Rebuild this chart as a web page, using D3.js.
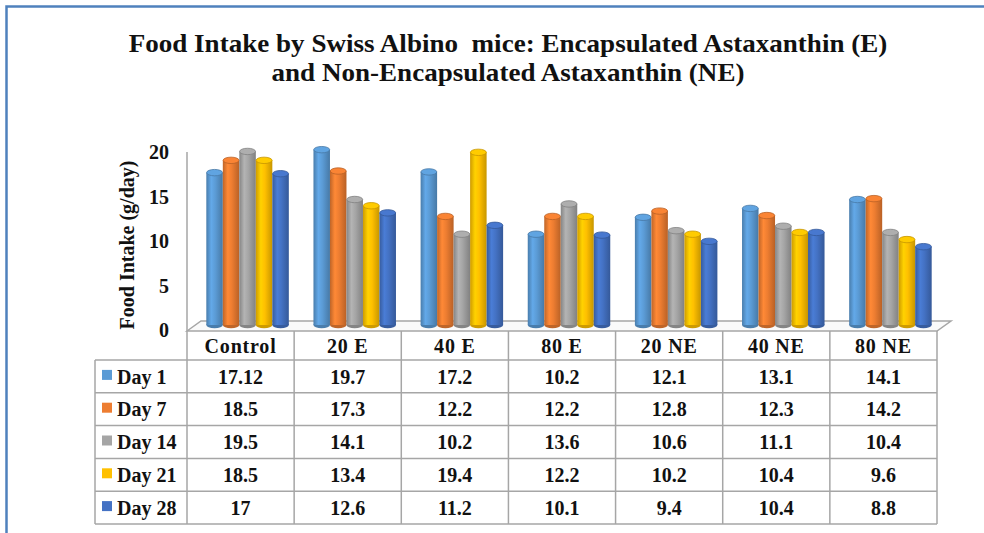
<!DOCTYPE html>
<html>
<head>
<meta charset="utf-8">
<script src="https://cdn.jsdelivr.net/npm/d3@7"></script>
<style>
  html, body { margin: 0; padding: 0; background: #fff; }
  svg { display: block; }
</style>
</head>
<body>
<svg id="chart" width="984" height="533"></svg>
<script>
// Groups (table columns) and time points (series / table rows)
const categories = ["Control", "20 E", "40 E", "80 E", "20 NE", "40 NE", "80 NE"];
const seriesNames = ["Day 1", "Day 7", "Day 14", "Day 21", "Day 28"];
const day1  = [17.12, 19.7, 17.2, 10.2, 12.1, 13.1, 14.1];
const day7  = [18.5, 17.3, 12.2, 12.2, 12.8, 12.3, 14.2];
const day14 = [19.5, 14.1, 10.2, 13.6, 10.6, 11.1, 10.4];
const day21 = [18.5, 13.4, 19.4, 12.2, 10.2, 10.4, 9.6];
const day28 = [17, 12.6, 11.2, 10.1, 9.4, 10.4, 8.8];
const seriesValues = [day1, day7, day14, day21, day28];
const seriesColors = ["#5B9BD5", "#ED7D31", "#A5A5A5", "#FFC000", "#4472C4"];
const yTicks = [0, 5, 10, 15, 20];
const titleLines = [
  "Food Intake by Swiss Albino  mice: Encapsulated Astaxanthin (E)",
  "and Non-Encapsulated Astaxanthin (NE)"
];
const yAxisTitle = "Food Intake (g/day)";

const FONT = "'Liberation Serif', 'Times New Roman', serif";
const INK = "#111";
const svg = d3.select("#chart");

// outer frame (left and top edges)
svg.append("path")
  .attr("d", "M6.5,533 L6.5,6.5 L984,6.5")
  .attr("fill", "none")
  .attr("stroke", "#4f81bd")
  .attr("stroke-width", 2.5);

// title (slightly widened lettering)
svg.append("g").selectAll("text")
  .data(titleLines)
  .join("text")
  .attr("transform", (d, i) => `translate(508,${52 + i * 29}) scale(1.083,1)`)
  .attr("text-anchor", "middle")
  .attr("font-family", FONT)
  .attr("font-size", 25)
  .attr("font-weight", "bold")
  .attr("fill", INK)
  .style("white-space", "pre")
  .text(d => d);

// scales
const plotLeft = 187, plotRight = 937;
const x = d3.scaleBand().domain(categories).range([plotLeft, plotRight]).padding(0);
const y = d3.scaleLinear().domain([0, 20]).range([330, 152]);
const inner = d3.scaleBand().domain(seriesNames)
  .range([x.bandwidth() * 0.115, x.bandwidth() * 0.885]).padding(0);
const depthX = 14, depthY = -10;            // floor depth offset
const midX = depthX / 2, midY = depthY / 2; // bars stand at mid-depth

// floor
const floorGround = y(0) + 1;
svg.append("path")
  .attr("d", `M${plotLeft},${floorGround} L${plotLeft + depthX},${floorGround + depthY} L${plotRight + depthX},${floorGround + depthY} L${plotRight},${floorGround} Z`)
  .attr("fill", "#fafafa")
  .attr("stroke", "#a6a6a6")
  .attr("stroke-width", 1.5);

// vertical axis line
svg.append("line")
  .attr("x1", plotLeft).attr("x2", plotLeft)
  .attr("y1", y(20)).attr("y2", floorGround)
  .attr("stroke", "#a6a6a6").attr("stroke-width", 1.5);

// y tick labels
svg.append("g").selectAll("text")
  .data(yTicks)
  .join("text")
  .attr("x", 169)
  .attr("y", d => y(d))
  .attr("dy", "0.35em")
  .attr("text-anchor", "end")
  .attr("font-family", FONT)
  .attr("font-size", 20)
  .attr("font-weight", "bold")
  .attr("fill", INK)
  .text(d => d);

// y axis title
svg.append("text")
  .attr("transform", `translate(134,${(y(0) + y(20)) / 2 + 4}) rotate(-90)`)
  .attr("text-anchor", "middle")
  .attr("font-family", FONT)
  .attr("font-size", 20)
  .attr("font-weight", "bold")
  .attr("fill", INK)
  .text(yAxisTitle);

// cylinder gradients
const defs = svg.append("defs");
seriesColors.forEach((c, i) => {
  const base = d3.color(c);
  const g = defs.append("linearGradient")
    .attr("id", "cyl" + i).attr("x1", "0%").attr("x2", "100%");
  [[0, base.darker(0.6)], [0.3, base.brighter(0.25)], [0.55, base], [1, base.darker(0.7)]]
    .forEach(([o, col]) => g.append("stop").attr("offset", o).attr("stop-color", col));
});

// bars as cylinders
const bw = inner.bandwidth();
const ry = 3.2;
const barRows = [];
categories.forEach((cat, ci) => {
  seriesNames.forEach((s, si) => {
    barRows.push({ cat, si, v: seriesValues[si][ci] });
  });
});
const bars = svg.append("g").selectAll("g")
  .data(barRows)
  .join("g")
  .attr("transform", d => `translate(${x(d.cat) + inner(seriesNames[d.si]) + midX},${midY})`);

bars.append("ellipse")
  .attr("cx", bw / 2).attr("cy", y(0))
  .attr("rx", bw / 2).attr("ry", ry)
  .attr("fill", d => d3.color(seriesColors[d.si]).darker(0.6));
bars.append("rect")
  .attr("x", 0).attr("width", bw)
  .attr("y", d => y(d.v))
  .attr("height", d => y(0) - y(d.v))
  .attr("fill", d => `url(#cyl${d.si})`);
bars.append("ellipse")
  .attr("cx", bw / 2).attr("cy", d => y(d.v))
  .attr("rx", bw / 2 - 0.3).attr("ry", ry)
  .attr("fill", d => d3.color(seriesColors[d.si]).brighter(0.15))
  .attr("stroke", d => d3.color(seriesColors[d.si]).darker(0.7))
  .attr("stroke-width", 0.8);

// data table
const tableLeft = 95;
const headerTop = floorGround, headerBottom = 360;
const rowH = (524 - headerBottom) / seriesNames.length;
const table = svg.append("g");
const lineColor = "#a6a6a6";

// header column separators
table.append("g").selectAll("line")
  .data(d3.range(categories.length + 1))
  .join("line")
  .attr("x1", i => plotLeft + i * x.step()).attr("x2", i => plotLeft + i * x.step())
  .attr("y1", headerTop).attr("y2", headerBottom)
  .attr("stroke", lineColor).attr("stroke-width", 1.5);

// horizontal row lines
table.append("g").selectAll("line")
  .data(d3.range(seriesNames.length + 1))
  .join("line")
  .attr("x1", tableLeft).attr("x2", plotRight)
  .attr("y1", i => headerBottom + i * rowH).attr("y2", i => headerBottom + i * rowH)
  .attr("stroke", lineColor).attr("stroke-width", 1.5);

// vertical lines in body
table.append("g").selectAll("line")
  .data([tableLeft].concat(d3.range(categories.length + 1).map(i => plotLeft + i * x.step())))
  .join("line")
  .attr("x1", d => d).attr("x2", d => d)
  .attr("y1", headerBottom).attr("y2", headerBottom + rowH * seriesNames.length)
  .attr("stroke", lineColor).attr("stroke-width", 1.5);

// category labels
table.append("g").selectAll("text")
  .data(categories)
  .join("text")
  .attr("x", d => x(d) + x.bandwidth() / 2)
  .attr("y", (headerTop + headerBottom) / 2)
  .attr("dy", "0.36em")
  .attr("text-anchor", "middle")
  .attr("font-family", FONT)
  .attr("font-size", 20)
  .attr("letter-spacing", 0.8)
  .attr("font-weight", "bold")
  .attr("fill", INK)
  .text(d => d);

// row labels with colour keys
const rows = table.append("g").selectAll("g")
  .data(seriesNames)
  .join("g")
  .attr("transform", (d, i) => `translate(0,${headerBottom + i * rowH + rowH / 2})`);
rows.append("rect")
  .attr("x", 102).attr("y", -6.5).attr("width", 10).attr("height", 10)
  .attr("fill", (d, i) => seriesColors[i]);
rows.append("text")
  .attr("x", 117).attr("dy", "0.36em")
  .attr("font-family", FONT)
  .attr("font-size", 20).attr("font-weight", "bold").attr("fill", INK)
  .text(d => d);

// values
rows.each(function (s, si) {
  d3.select(this).selectAll("text.val")
    .data(seriesValues[si])
    .join("text")
    .attr("class", "val")
    .attr("x", (v, ci) => x(categories[ci]) + x.bandwidth() / 2)
    .attr("dy", "0.36em")
    .attr("text-anchor", "middle")
    .attr("font-family", FONT)
    .attr("font-size", 20).attr("font-weight", "bold").attr("fill", INK)
    .text(v => v);
});
</script>
</body>
</html>
